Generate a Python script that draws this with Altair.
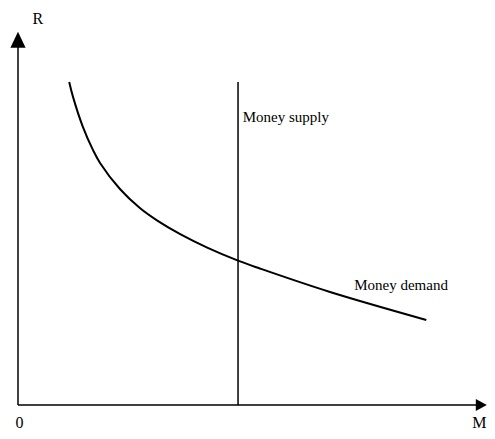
import altair as alt
import pandas as pd

# Money demand curve (M, R)
demand_m = [10.8, 11.6, 13.7, 15.8, 17.3, 21.5, 25.7, 29.3, 34.2, 39.9, 46.4, 51.0, 65.8, 86.1]
demand_r = [86.6, 82.6, 74.5, 68.4, 64.9, 57.9, 52.8, 49.5, 45.8, 42.2, 38.7, 36.6, 30.3, 22.8]

# Money supply (vertical line)
supply_m = [46.4, 46.4]
supply_r = [0.0, 86.6]

# Axes ends
axis_top = 100.0
axis_right = 98.9

labels_text = ["Money supply", "Money demand"]
labels_m = [47.4, 70.9]
labels_r = [77.2, 32.2]

axis_labels_text = ["R", "0", "M"]
axis_labels_m = [4.2, 0.3, 97.3]
axis_labels_r = [103.5, -4.8, -4.9]

FONT = "Liberation Serif"

xs = alt.Scale(domain=[0, axis_right], nice=False, zero=False)
ys = alt.Scale(domain=[0, axis_top], nice=False, zero=False)

demand_df = pd.DataFrame({"M": demand_m, "R": demand_r})
supply_df = pd.DataFrame({"M": supply_m, "R": supply_r})

axes_df = pd.DataFrame({
    "M": [0.0, 0.0],
    "R": [0.0, 0.0],
    "M2": [0.0, axis_right - 2.0],
    "R2": [axis_top - 3.0, 0.0],
})

arrow_up_df = pd.DataFrame({"M": [0.0], "R": [axis_top - 2.1]})
arrow_right_df = pd.DataFrame({"M": [axis_right - 1.2], "R": [0.0]})

labels_df = pd.DataFrame({"t": labels_text, "M": labels_m, "R": labels_r})
axis_labels_df = pd.DataFrame({"t": axis_labels_text, "M": axis_labels_m, "R": axis_labels_r})

X = lambda f="M": alt.X(f"{f}:Q", scale=xs, axis=None)
Y = lambda f="R": alt.Y(f"{f}:Q", scale=ys, axis=None)

axes = alt.Chart(axes_df).mark_rule(color="black", strokeWidth=1.5).encode(
    x=X(), y=Y(), x2="M2:Q", y2="R2:Q"
)

arrow_up = alt.Chart(arrow_up_df).mark_point(
    shape="M0,-1L-0.95,1L0.95,1Z", size=256, filled=True, color="black", opacity=1
).encode(x=X(), y=Y())

arrow_right = alt.Chart(arrow_right_df).mark_point(
    shape="M1,0L-1,-1.1L-1,1.1Z", size=121, filled=True, color="black", opacity=1
).encode(x=X(), y=Y())

demand = alt.Chart(demand_df).mark_line(
    color="black", strokeWidth=2, interpolate="catmull-rom"
).encode(x=X(), y=Y(), order=alt.Order("M:Q"))

supply = alt.Chart(supply_df).mark_line(color="black", strokeWidth=1.5).encode(
    x=X(), y=Y()
)

labels = alt.Chart(labels_df).mark_text(
    align="left", baseline="middle", font=FONT, fontSize=15, color="black"
).encode(x=X(), y=Y(), text="t:N")

axis_labels = alt.Chart(axis_labels_df).mark_text(
    align="center", baseline="middle", font=FONT, fontSize=16, color="black"
).encode(x=X(), y=Y(), text="t:N")

chart = alt.layer(axes, supply, demand, arrow_up, arrow_right, labels, axis_labels).properties(
    width=469,
    height=373,
    autosize=alt.AutoSizeParams(type="none"),
    padding={"left": 10, "top": 24, "right": 0, "bottom": 26},
    background="white",
).configure_view(stroke=None)

chart.save("out.html", embed_options={"renderer": "svg", "actions": False})
